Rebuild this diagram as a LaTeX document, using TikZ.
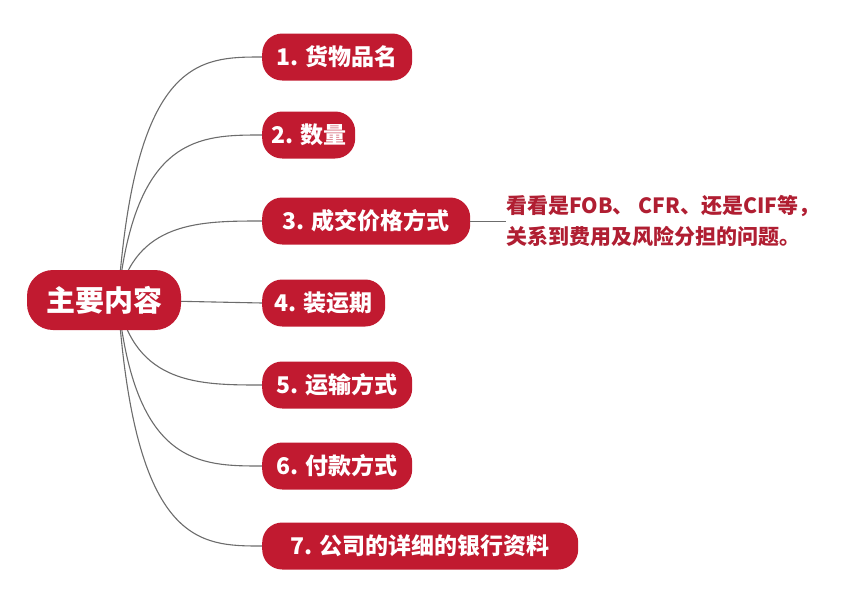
\documentclass[tikz,border=0pt]{standalone}
\usepackage{fontspec}
\setmainfont{Noto Sans CJK SC}
\definecolor{nodered}{HTML}{C11A30}
\definecolor{notered}{HTML}{B01E32}
\begin{document}
\begin{tikzpicture}[x=1pt,y=-1pt,
  box/.style={fill=nodered,text=white,rounded corners=20pt,font=\fontsize{23}{26}\selectfont\bfseries,inner sep=0pt,anchor=west,minimum height=47pt},
  link/.style={draw=gray!85!black,line width=1.1pt}]
\useasboundingbox (0,0) rectangle (860,603);
\coordinate (o) at (118,300);
\foreach \n/\y in {a/57,b/135,c/221,e/385,f/466,g/546}{
  \coordinate (s\n) at (262,\y);
  \draw[link] (o) .. controls (135,\y) and (200,\y) .. (s\n);
}
\draw[link] (o) -- (262,303);
\node[box,minimum height=60pt,minimum width=154pt,rounded corners=26pt,anchor=center,font=\fontsize{29}{32}\selectfont\bfseries] (m) at (104,300) {主要内容};
\node[box,minimum width=150pt] (n1) at (262,57) {1. 货物品名};
\node[box,minimum width=93pt] (n2) at (262,135) {2. 数量};
\node[box,minimum width=208pt] (n3) at (262,221) {3. 成交价格方式};
\node[box,minimum width=123pt] (n4) at (262,303) {4. 装运期};
\node[box,minimum width=150pt] (n5) at (262,385) {5. 运输方式};
\node[box,minimum width=150pt] (n6) at (262,466) {6. 付款方式};
\node[box,minimum width=316pt] (n7) at (262,546) {7. 公司的详细的银行资料};
\node[anchor=west,text=notered,font=\fontsize{21}{31}\selectfont\bfseries,align=left,inner sep=0pt] (t) at (506,221) {看看是FOB、 CFR、还是CIF等，\\关系到费用及风险分担的问题。};
\draw[link,line width=0.8pt] (n3.east) -- (t.west);
\end{tikzpicture}
\end{document}
